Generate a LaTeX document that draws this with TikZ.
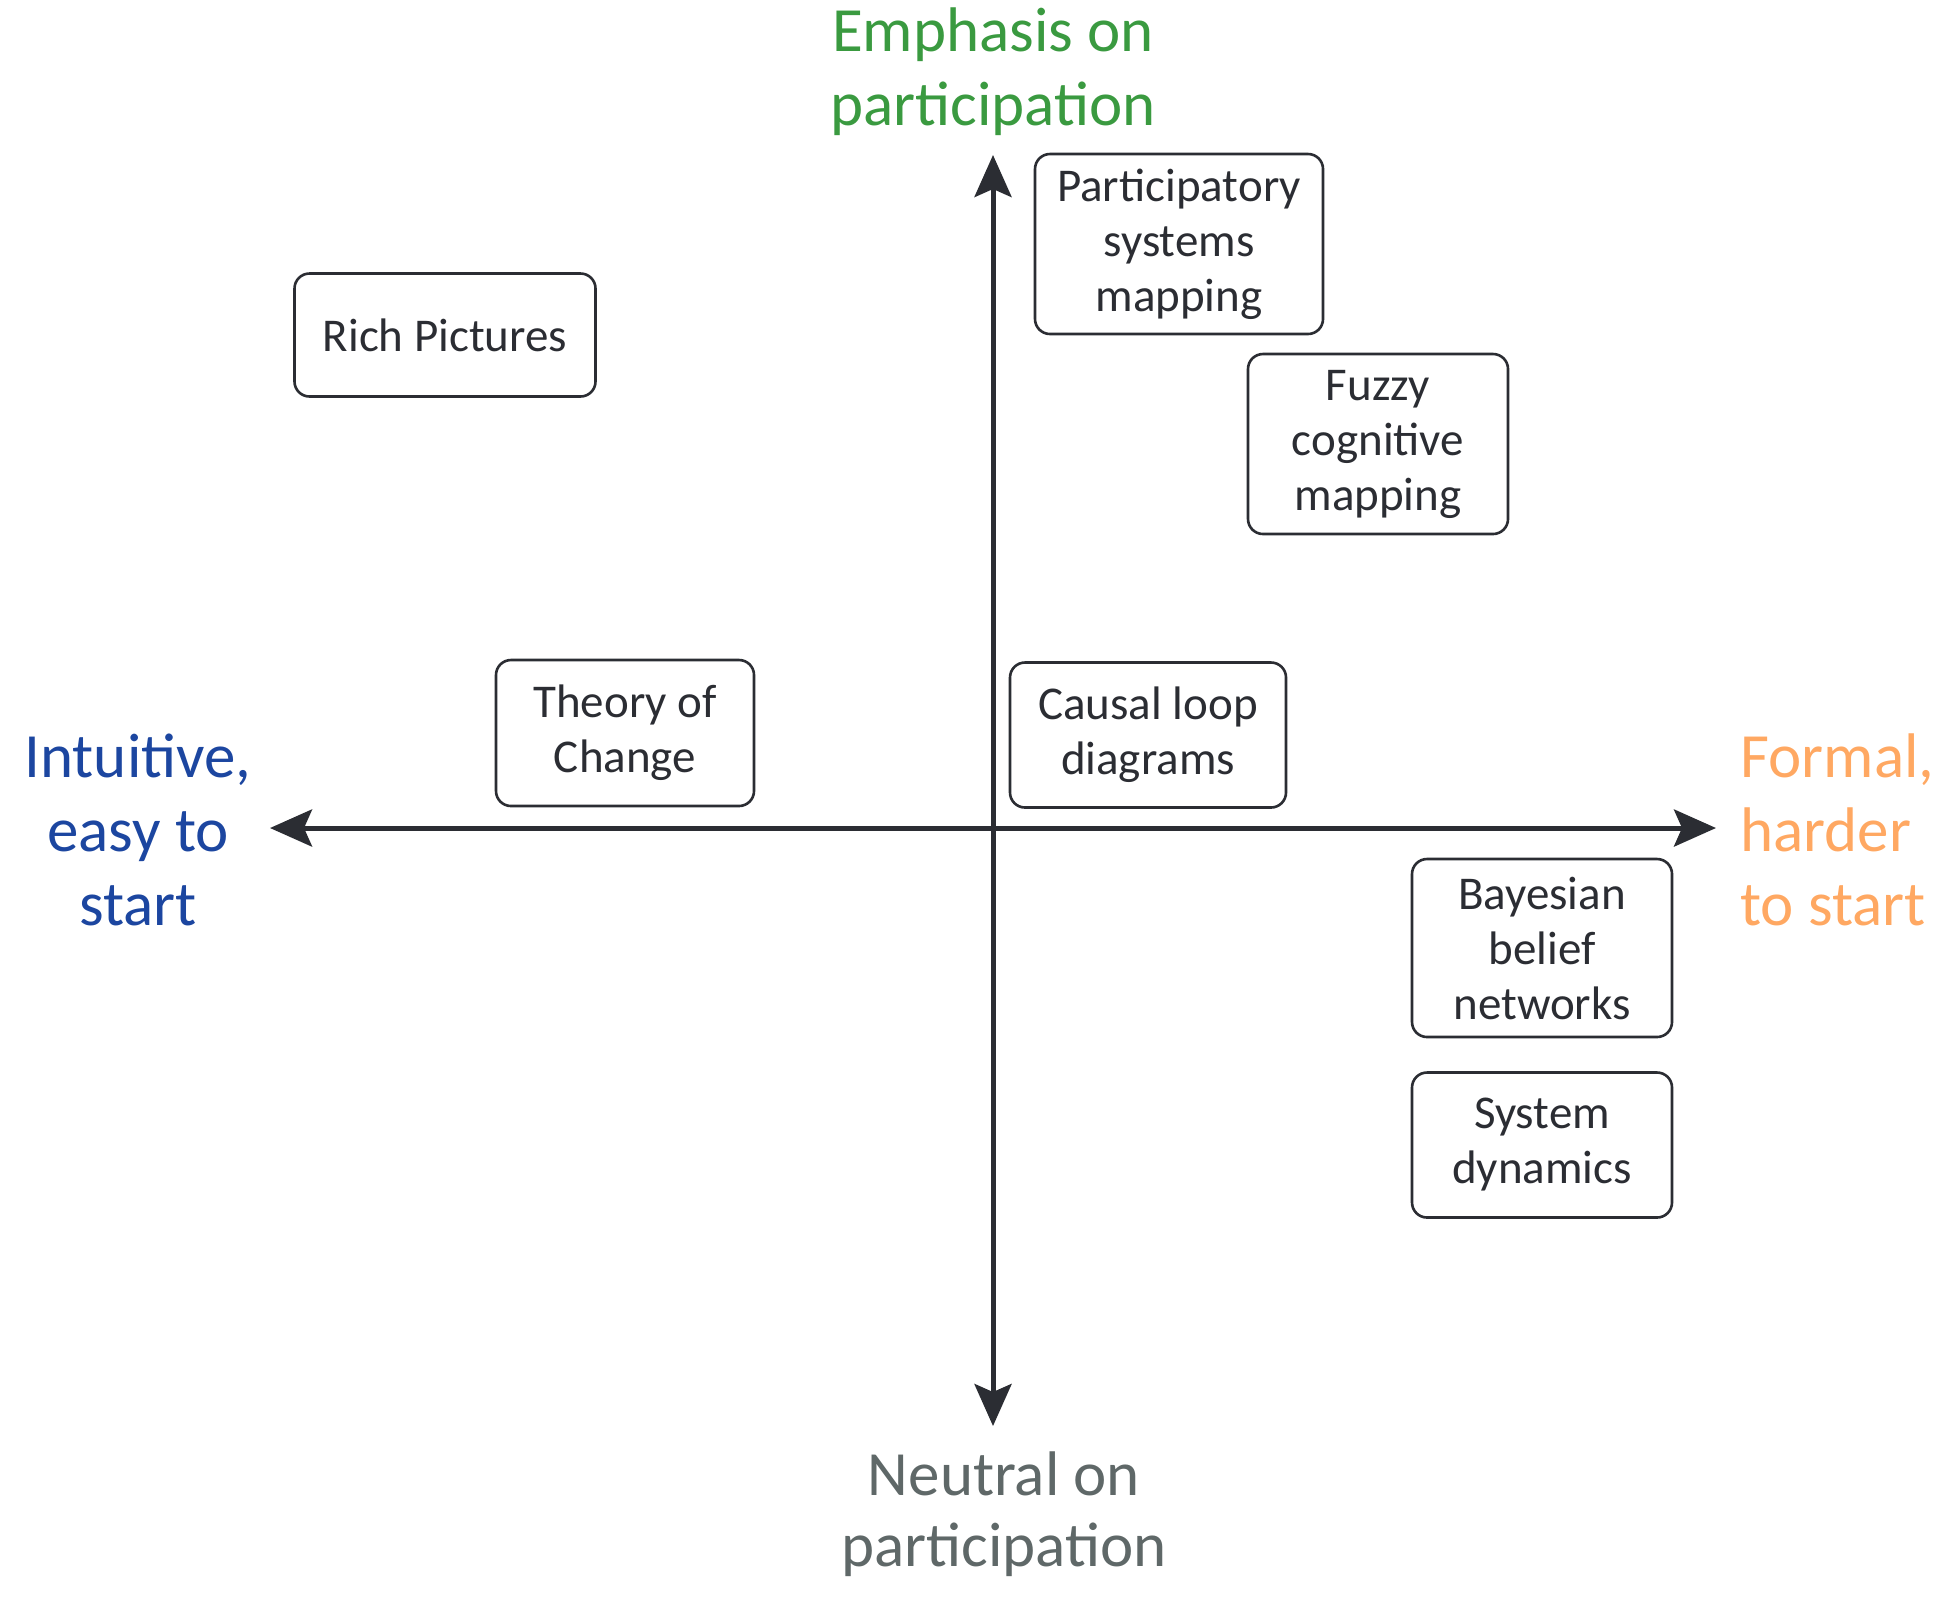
\documentclass[tikz,border=0pt]{standalone}
\usepackage{fontspec}
\setmainfont{Carlito}
\usetikzlibrary{arrows.meta}
\definecolor{ink}{HTML}{2B2D33}
\definecolor{cgreen}{HTML}{3A9A40}
\definecolor{cblue}{HTML}{1C46A0}
\definecolor{corange}{HTML}{FFA862}
\definecolor{cgray}{HTML}{5F6868}
\tikzset{
  method/.style={draw=ink, line width=1.3pt, rounded corners=7.5pt, text=ink, align=center,
    font=\fontsize{23.5pt}{27.5pt}\selectfont, inner sep=0pt},
  axislabel/.style={align=center, font=\fontsize{31.5pt}{37pt}\selectfont, inner sep=0pt},
  axisline/.style={draw=ink, line width=2.5pt, {Stealth[length=21pt,width=18.5pt,inset=4pt]}-{Stealth[length=21pt,width=18.5pt,inset=4pt]}}
}
\begin{document}
\begin{tikzpicture}[x=0.5pt,y=-0.5pt]
\useasboundingbox (0,0) rectangle (1946,1614);
% axis ends
\coordinate (L) at (270,828);
\coordinate (R) at (1716,828);
\coordinate (T) at (993,155);
\coordinate (B) at (993,1426);
\draw[axisline] (L) -- (R);
\draw[axisline] (T) -- (B);
% methods
\node[method, minimum width=144pt, minimum height=90pt] (psm) at (1179,244) {Participatory\\systems\\mapping};
\node[method, minimum width=130pt, minimum height=90pt] (fcm) at (1378,444) {Fuzzy\\cognitive\\mapping};
\node[method, minimum width=150.5pt, minimum height=61.5pt] (rp) at (445,335) {Rich Pictures};
\node[method, minimum width=129pt, minimum height=73pt] (toc) at (625,733) {Theory of\\Change};
\node[method, minimum width=138pt, minimum height=72.5pt] (cld) at (1148,735) {Causal loop\\diagrams};
\node[method, minimum width=130pt, minimum height=89pt] (bbn) at (1542,948) {Bayesian\\belief\\networks};
\node[method, minimum width=130pt, minimum height=72.5pt] (sd) at (1542,1145) {System\\dynamics};
% axis labels
\node[axislabel, text=cgreen] (top) at (993,72) {Emphasis on\\participation};
\node[axislabel, text=cgray, font=\fontsize{31.5pt}{35.5pt}\selectfont] (bot) at (1004,1514) {Neutral on\\participation};
\node[axislabel, text=cblue] (left) at (138,830) {Intuitive,\\easy to\\start};
\node[axislabel, text=corange, align=left, anchor=west] (right) at (1740,830) {Formal,\\harder\\to start};
\end{tikzpicture}
\end{document}
